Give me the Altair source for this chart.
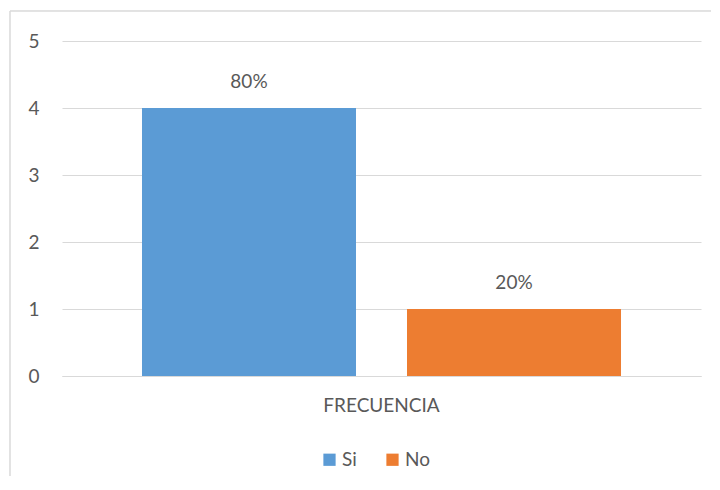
import altair as alt
import pandas as pd

categories = ["FRECUENCIA", "FRECUENCIA"]
series = ["Si", "No"]
values = [4, 1]
labels = ["80%", "20%"]
colors = ["#5B9BD5", "#ED7D31"]

df = pd.DataFrame({"cat": categories, "serie": series, "valor": values, "etiqueta": labels})

FONT = "Lato"
GREY = "#595959"
FS = 19

x = alt.X("cat:N", title=None,
          scale=alt.Scale(paddingInner=0, paddingOuter=0.167),
          axis=alt.Axis(labelAngle=0, labelFontSize=FS, labelColor=GREY, labelFont=FONT,
                        ticks=False, domainColor="#d9d9d9", labelPadding=20, grid=False))
xo = alt.XOffset("serie:N", sort=series, scale=alt.Scale(paddingInner=0.1925, paddingOuter=0))
y = alt.Y("valor:Q", title=None,
          scale=alt.Scale(domain=[0, 5]),
          axis=alt.Axis(values=[0, 1, 2, 3, 4, 5], format="d", labelOverlap=False, labelFontSize=FS,
                        labelColor=GREY, labelFont=FONT, ticks=False, domain=False,
                        gridColor="#d9d9d9", labelPadding=23))

bars = alt.Chart(df).mark_bar().encode(
    x=x, xOffset=xo, y=y,
    color=alt.Color("serie:N", sort=series, title=None,
                    scale=alt.Scale(domain=series, range=colors),
                    legend=alt.Legend(orient="none", legendX=258, legendY=409, direction="horizontal",
                                      symbolType="square", symbolSize=150, symbolStrokeWidth=0,
                                      labelFontSize=FS, labelColor=GREY, labelFont=FONT,
                                      columnPadding=26, labelOffset=3)),
)

text = alt.Chart(df).mark_text(dy=-26, fontSize=FS, color=GREY, font=FONT).encode(
    x=alt.X("cat:N"), xOffset=alt.XOffset("serie:N", sort=series), y="valor:Q", text="etiqueta:N"
)

frame = alt.Chart(df).mark_rect(fill=None, stroke="#d9d9d9", strokeWidth=1).encode(
    x=alt.value(-52), y=alt.value(-30), x2=alt.value(720), y2=alt.value(520)
)

chart = alt.layer(frame, bars, text).properties(
    width=639, height=335,
    background="white",
    autosize=alt.AutoSizeParams(type="none"),
    padding={"left": 54, "top": 33, "right": 10, "bottom": 100},
).configure_view(strokeWidth=0, stroke="transparent")

chart.save("out.html", embed_options={"renderer": "svg", "actions": False})
